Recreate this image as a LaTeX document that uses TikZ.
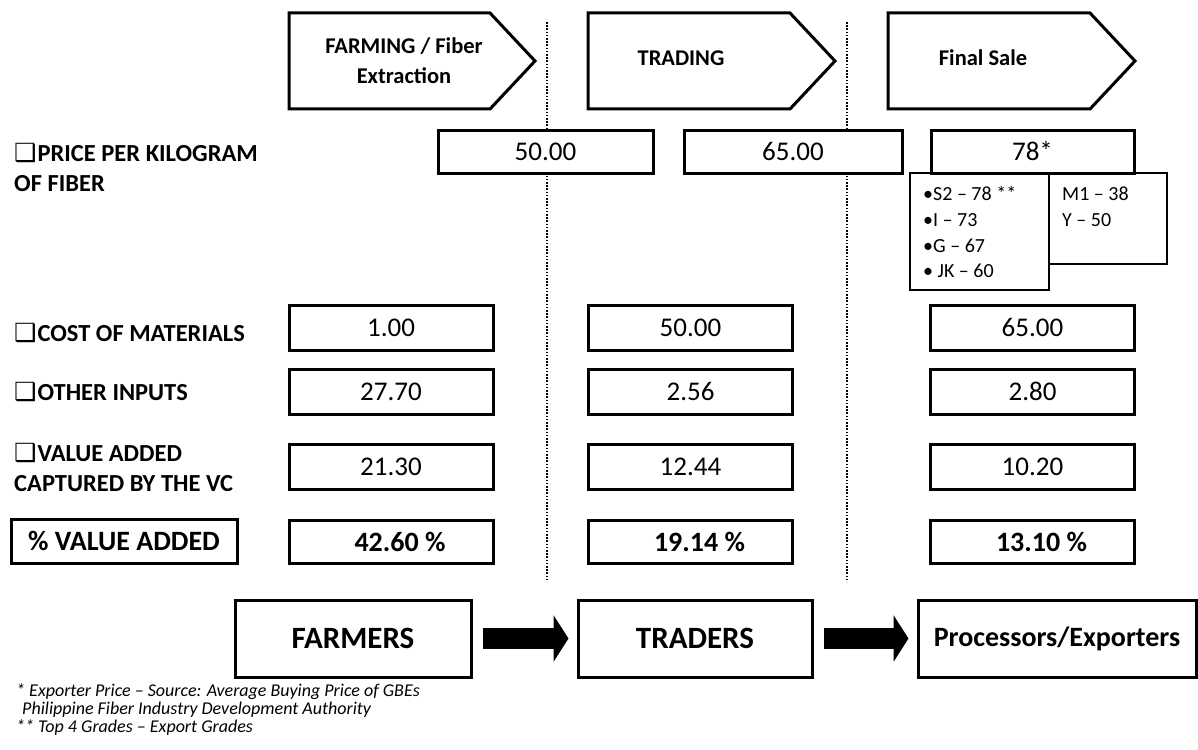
\documentclass[tikz,border=0pt]{standalone}
\usepackage{fontspec}
\setmainfont{Carlito}
\newfontfamily\symfont{DejaVu Sans}
\usetikzlibrary{arrows.meta}

\tikzset{
  heavy/.style={draw, line width=3pt},
  stage/.style={draw, line width=3pt, line join=miter},
  stagetext/.style={font=\bfseries\fontsize{22.5}{30}\selectfont, align=center, inner sep=0pt},
  valbox/.style={heavy, minimum width=204pt, minimum height=45pt, inner sep=0pt,
                 font=\fontsize{27}{32}\selectfont},
  pricebox/.style={valbox, minimum height=43pt},
  pctbox/.style={valbox, minimum height=43pt, font=\bfseries\fontsize{28}{32}\selectfont},
  gradebox/.style={draw, line width=1.5pt},
  gradetext/.style={anchor=base west, inner sep=0pt, font=\fontsize{20}{24}\selectfont},
  rowlabel/.style={anchor=base west, inner sep=0pt, font=\bfseries\fontsize{24.5}{30}\selectfont},
  actor/.style={heavy, minimum height=77pt, inner sep=0pt, font=\bfseries\fontsize{31}{36}\selectfont},
  flow/.style={line width=21pt, -{Triangle[length=15pt, width=46pt]}, shorten <=10pt, shorten >=8pt},
  divider/.style={line width=1.6pt, dash pattern=on 1.6pt off 1.6pt},
  note/.style={anchor=base west, inner sep=0pt, font=\itshape\fontsize{18}{18}\selectfont},
}
\newcommand{\qbox}{{\symfont\fontsize{25}{30}\selectfont ❑}\kern1pt}

\begin{document}
\begin{tikzpicture}[x=1pt, y=-1pt]
\path[use as bounding box] (0,0) rectangle (1198,749);

% stage dividers
\draw[divider] (547,22) -- (547,582);
\draw[divider] (847,22) -- (847,582);

% stage banners
\draw[stage, fill=white] (289,13) -- (490,13) -- (535,61) -- (490,109) -- (289,109) -- cycle;
\draw[stage, fill=white] (588,13) -- (790,13) -- (835,61) -- (790,109) -- (588,109) -- cycle;
\draw[stage, fill=white] (888,13) -- (1090,13) -- (1135,61) -- (1090,109) -- (888,109) -- cycle;
\node[stagetext] (s1) at (404,61) {FARMING / Fiber\\Extraction};
\node[stagetext] (s2) at (681,58) {TRADING};
\node[stagetext] (s3) at (983,58) {Final Sale};

% row labels
\node[rowlabel] (l1a) at (14,161) {\qbox PRICE PER KILOGRAM};
\node[rowlabel] (l1b) at (14,191) {OF FIBER};
\node[rowlabel] (l2) at (14,341) {\qbox COST OF MATERIALS};
\node[rowlabel] (l3) at (14,400) {\qbox OTHER INPUTS};
\node[rowlabel] (l4a) at (14,461) {\qbox VALUE ADDED};
\node[rowlabel] (l4b) at (14,491) {CAPTURED BY THE VC};
\node[heavy, minimum width=226pt, minimum height=44pt, inner sep=0pt,
      font=\bfseries\fontsize{28}{32}\selectfont] (l5) at (124,541) {\% VALUE ADDED};

% grade breakdown under the final price
\draw[gradebox, fill=white] (1049,173) rectangle (1167,264);
\draw[gradebox, fill=white] (910,173) rectangle (1049,290);
\node[gradetext] (g1) at (923,200) {•S2 – 78 **};
\node[gradetext] (g2) at (923,226) {•I – 73};
\node[gradetext] (g3) at (923,252) {•G – 67};
\node[gradetext] (g4) at (923,277) {• JK – 60};
\node[gradetext] (g5) at (1062,200) {M1 – 38};
\node[gradetext] (g6) at (1062,226) {Y – 50};

% price per kilogram
\node[pricebox, fill=white, minimum width=215pt] (p1) at (545.5,151.5) {50.00};
\node[pricebox, fill=white, minimum width=218pt] (p2) at (793,151.5) {65.00};
\node[pricebox, fill=white, minimum width=203pt] (p3) at (1032.5,151.5) {78*};

% cost of materials
\node[valbox, fill=white] (c1) at (391,327.5) {1.00};
\node[valbox, fill=white] (c2) at (690.5,327.5) {50.00};
\node[valbox, fill=white] (c3) at (1032.5,327.5) {65.00};

% other inputs
\node[valbox, fill=white] (o1) at (391,391.5) {27.70};
\node[valbox, fill=white] (o2) at (690.5,391.5) {2.56};
\node[valbox, fill=white] (o3) at (1032.5,391.5) {2.80};

% value added
\node[valbox, fill=white] (v1) at (391,466.5) {21.30};
\node[valbox, fill=white] (v2) at (690.5,466.5) {12.44};
\node[valbox, fill=white] (v3) at (1032.5,466.5) {10.20};

% percentage of value added
\node[pctbox, fill=white] (q1) at (391,541.5) {\hspace*{18pt}42.60 \%};
\node[pctbox, fill=white] (q2) at (690.5,541.5) {\hspace*{18pt}19.14 \%};
\node[pctbox, fill=white] (q3) at (1032.5,541.5) {\hspace*{18pt}13.10 \%};

% actors along the chain
\node[actor, minimum width=236pt] (farmers) at (353,638.5) {FARMERS};
\node[actor, minimum width=234pt] (traders) at (695,638.5) {TRADERS};
\node[actor, minimum width=278pt, font=\bfseries\fontsize{28}{34}\selectfont] (proc) at (1057,638.5) {Processors/Exporters};
\draw[flow] (farmers) -- (traders);
\draw[flow] (traders) -- (proc);

% footnotes
\node[note] (n1) at (16,696) {* Exporter Price – Source: Average Buying Price of GBEs};
\node[note] (n2) at (22,714) {Philippine Fiber Industry Development Authority};
\node[note] (n3) at (16,732) {** Top 4 Grades – Export Grades};
\end{tikzpicture}
\end{document}
